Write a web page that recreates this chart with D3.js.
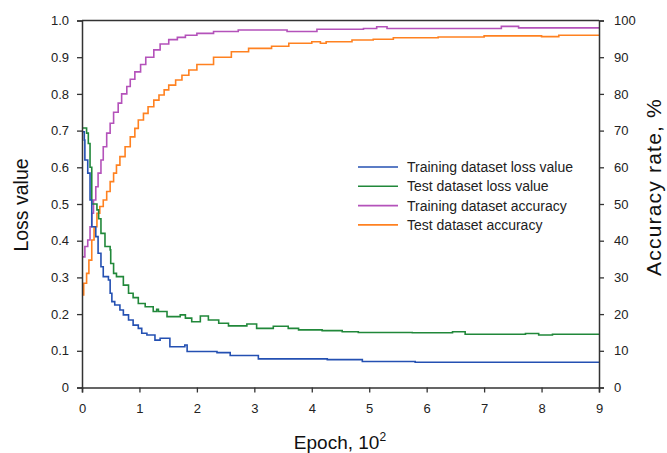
<!DOCTYPE html>
<html><head><meta charset="utf-8">
<script src="https://cdn.jsdelivr.net/npm/d3@7"></script>
<style>body{margin:0;background:#fff}svg{display:block}</style>
</head><body><svg id="c" width="667" height="453"></svg>
<script>
// Data (epoch in hundreds; loss values; accuracy in %)
const trainLossEpoch = [0,0.04,0.05,0.10,0.14,0.17,0.24,0.28,0.33,0.37,0.46,0.49,0.52,0.57,0.66,0.72,0.81,0.89,0.98,1.04,1.13,1.27,1.36,1.53,1.79,1.83,2.35,2.58,3.07,4.27,4.88,5.80,9];
const trainLoss      = [0.697,0.674,0.62,0.584,0.511,0.438,0.411,0.366,0.329,0.302,0.293,0.257,0.234,0.225,0.211,0.198,0.184,0.170,0.161,0.148,0.143,0.129,0.134,0.111,0.116,0.098,0.095,0.087,0.078,0.076,0.071,0.069,0.069];

const testLossEpoch = [0,0.08,0.11,0.14,0.17,0.26,0.29,0.33,0.40,0.49,0.50,0.55,0.60,0.72,0.81,0.89,0.98,1.10,1.24,1.30,1.33,1.48,1.71,1.80,1.91,2.06,2.20,2.38,2.55,2.87,3.04,3.33,3.59,3.77,4.18,4.53,4.81,5.75,6.45,6.67,7.72,7.95,8.19,9];
const testLoss      = [0.707,0.693,0.665,0.60,0.50,0.484,0.46,0.42,0.384,0.375,0.338,0.311,0.302,0.279,0.257,0.245,0.229,0.220,0.207,0.213,0.207,0.193,0.198,0.189,0.179,0.195,0.184,0.175,0.168,0.173,0.161,0.167,0.161,0.157,0.155,0.152,0.150,0.149,0.152,0.145,0.147,0.143,0.145,0.145];

const trainAccEpoch = [0,0.05,0.10,0.14,0.17,0.20,0.24,0.28,0.33,0.37,0.43,0.49,0.55,0.63,0.69,0.78,0.84,0.92,1.02,1.11,1.25,1.36,1.51,1.66,1.80,2.0,2.29,2.72,3.57,4.09,4.90,5.13,5.31,7.30,7.60,9];
const trainAcc      = [35.6,38.4,40.2,43.8,47.5,51.1,54.7,58.4,62.0,65.6,69.3,72.0,75.0,77.5,80.0,82.0,84.0,86.0,88.0,90.0,92.0,93.6,94.8,95.4,96.0,96.5,97.0,97.4,97.0,97.6,97.8,98.3,97.8,98.4,98.0,98.0];

const testAccEpoch = [0,0.03,0.08,0.12,0.17,0.21,0.26,0.31,0.37,0.43,0.49,0.55,0.60,0.66,0.75,0.84,0.92,0.98,1.07,1.15,1.25,1.34,1.43,1.51,1.63,1.74,1.86,2.0,2.29,2.6,2.9,3.3,3.6,4.0,4.15,4.25,4.7,5.07,5.42,6.2,7.0,8.0,8.3,9];
const testAcc      = [25.2,28.4,31.1,34.7,40.2,43.8,47.5,49.3,51.1,53.4,56.1,58.4,60.6,62.9,65.6,68.3,70.6,72.9,74.7,76.5,78.3,79.7,81.1,82.4,83.8,85.1,86.5,88.0,90.0,91.5,92.4,93.0,93.8,94.2,93.8,94.2,94.7,94.9,95.3,95.5,95.8,95.6,96.0,95.8];

const xTicks = [0,1,2,3,4,5,6,7,8,9];
const lossTicks = [0,0.1,0.2,0.3,0.4,0.5,0.6,0.7,0.8,0.9,1.0];
const accTicks = [0,10,20,30,40,50,60,70,80,90,100];
const legendLabels = ["Training dataset loss value","Test dataset loss value","Training dataset accuracy","Test dataset accuracy"];
const colors = ["#2450b2","#21883a","#b452ba","#ff8120"];

const svg = d3.select("#c");
const L = 82, R = 599, T = 20.5, B = 387.5;
const x = d3.scaleLinear().domain([0,9]).range([L,R]);
const yL = d3.scaleLinear().domain([0,1]).range([B,T]);
const yR = d3.scaleLinear().domain([0,100]).range([B,T]);
const font = "'Liberation Sans', Arial, sans-serif";

function series(ep, vals, ys, color){
  const pts = ep.map((e,i)=>[e, vals[i]]);
  svg.append("path").datum(pts)
    .attr("fill","none").attr("stroke",color).attr("stroke-width",1.6)
    .attr("d", d3.line().x(d=>x(d[0])).y(d=>ys(d[1])).curve(d3.curveStepAfter));
}
series(trainAccEpoch, trainAcc, yR, colors[2]);
series(testAccEpoch, testAcc, yR, colors[3]);
series(testLossEpoch, testLoss, yL, colors[1]);
series(trainLossEpoch, trainLoss, yL, colors[0]);

// frame top
svg.append("line").attr("x1",L).attr("x2",R).attr("y1",T).attr("y2",T).attr("stroke","#333").attr("stroke-width",1.5);

function styleAxis(g){
  g.select(".domain").attr("stroke","#333").attr("stroke-width",1.5);
  g.selectAll(".tick line").attr("stroke","#333").attr("stroke-width",1.3);
  g.selectAll(".tick text").attr("fill","#222").style("font-family",font).style("font-size","13px");
}
const gx = svg.append("g").attr("transform",`translate(0,${B})`)
  .call(d3.axisBottom(x).tickValues(xTicks).tickFormat(d3.format("d")).tickSizeOuter(0).tickSize(5).tickPadding(11));
styleAxis(gx);
const gl = svg.append("g").attr("transform",`translate(${L},0)`)
  .call(d3.axisLeft(yL).tickValues(lossTicks).tickFormat(d=> d===0?"0":d3.format(".1f")(d)).tickSizeOuter(0).tickSize(5).tickPadding(8));
styleAxis(gl);
const gr = svg.append("g").attr("transform",`translate(${R},0)`)
  .call(d3.axisRight(yR).tickValues(accTicks).tickFormat(d3.format("d")).tickSizeOuter(0).tickSize(5).tickPadding(10));
styleAxis(gr);

// axis titles
svg.append("text").attr("transform",`translate(27.5,205) rotate(-90)`).attr("text-anchor","middle")
  .style("font-family",font).style("font-size","19.5px").attr("fill","#111").text("Loss value");
svg.append("text").attr("transform",`translate(661,187) rotate(-90)`).attr("text-anchor","middle")
  .style("font-family",font).style("font-size","21px").style("letter-spacing","1.2px").attr("fill","#111").text("Accuracy rate, %");
const xt = svg.append("text").attr("x",340).attr("y",448.5).attr("text-anchor","middle")
  .style("font-family",font).style("font-size","19px").attr("fill","#111");
xt.append("tspan").text("Epoch, 10");
xt.append("tspan").attr("dy",-8).style("font-size","12px").text("2");

// legend
const lg = svg.append("g");
legendLabels.forEach((t,i)=>{
  const yy = 167 + i*19.3;
  lg.append("line").attr("x1",358).attr("x2",398).attr("y1",yy).attr("y2",yy).attr("stroke",colors[i]).attr("stroke-width",1.6);
  lg.append("text").attr("x",407).attr("y",yy+5).style("font-family",font).style("font-size","14px").attr("fill","#222").text(t);
});
</script></body></html>
